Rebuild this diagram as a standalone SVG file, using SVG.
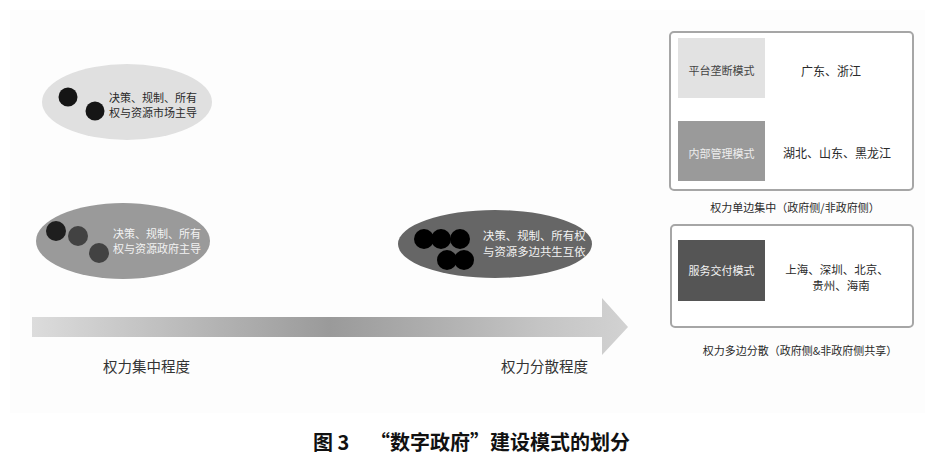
<svg xmlns="http://www.w3.org/2000/svg" width="935" height="460" viewBox="0 0 935 460">
<style>
text{font-family:"Noto Sans CJK SC","Noto Sans",sans-serif;}
.t11{font-size:11px;}
.t12{font-size:12px;}
.dark{fill:#2a2a2a;}
.light{fill:#f2f2f2;}
.box{fill:#fff;stroke:#a6a6a6;stroke-width:2;}
.dot{stroke:none;}
</style>
<defs>
<linearGradient id="ag" x1="32" y1="0" x2="628" y2="0" gradientUnits="userSpaceOnUse">
<stop offset="0" stop-color="#dcdcdc"/>
<stop offset="0.5" stop-color="#9a9a9a"/>
<stop offset="0.85" stop-color="#c4c4c4"/>
<stop offset="1" stop-color="#d2d2d2"/>
</linearGradient>
</defs>
<rect x="0" y="0" width="935" height="460" fill="#fff"/>
<rect x="10" y="10" width="915" height="403" fill="#fdfdfd"/>

<g id="node-market">
<ellipse cx="127" cy="102" rx="85" ry="38" fill="#e0e0e0"/>
<circle class="dot" cx="68" cy="97" r="9.5" fill="#151515"/>
<circle class="dot" cx="95" cy="111" r="9.5" fill="#151515"/>
<text class="t11 dark" x="109" y="102">决策、规制、所有</text>
<text class="t11 dark" x="109" y="117">权与资源市场主导</text>
</g>

<g id="node-gov">
<ellipse cx="123" cy="241" rx="87" ry="38" fill="#9a9a9a"/>
<circle class="dot" cx="56" cy="231" r="10" fill="#1e1e1e"/>
<circle class="dot" cx="78" cy="236" r="10" fill="#424242"/>
<circle class="dot" cx="99" cy="253" r="10" fill="#424242"/>
<text class="t11 light" x="113" y="238">决策、规制、所有</text>
<text class="t11 light" x="113" y="253">权与资源政府主导</text>
</g>

<g id="node-multi">
<ellipse cx="495" cy="244" rx="97" ry="34" fill="#666"/>
<circle class="dot" cx="424" cy="239" r="10" fill="#000"/>
<circle class="dot" cx="441" cy="239" r="10" fill="#000"/>
<circle class="dot" cx="460" cy="239" r="10" fill="#000"/>
<circle class="dot" cx="447" cy="260" r="10" fill="#000"/>
<circle class="dot" cx="464" cy="260" r="10" fill="#000"/>
<text class="t11 light" x="483" y="240" style="font-size:11.4px">决策、规制、所有权</text>
<text class="t11 light" x="483" y="256" style="font-size:11.4px">与资源多边共生互依</text>
</g>

<g id="connectors">
<polygon points="32,317 602,317 602,298 628,327 602,355 602,337 32,337" fill="url(#ag)"/>
</g>

<g id="axis-labels">
<text x="103" y="372" style="font-size:14.5px" fill="#333">权力集中程度</text>
<text x="501" y="372" style="font-size:14.5px" fill="#333">权力分散程度</text>
</g>

<g id="group-single">
<rect class="box" x="670" y="32" width="243" height="158" rx="4"/>
<g id="node-platform">
<rect x="678" y="38" width="87" height="60" fill="#e2e2e2"/>
<text class="t11" x="721.5" y="75" text-anchor="middle" fill="#444">平台垄断模式</text>
</g>
<text class="t12 dark" x="831" y="76" text-anchor="middle">广东、浙江</text>
<g id="node-internal">
<rect x="678" y="121" width="87" height="60" fill="#9a9a9a"/>
<text class="t11" x="721.5" y="158" text-anchor="middle" fill="#eee">内部管理模式</text>
</g>
<text class="t12 dark" x="837" y="158" text-anchor="middle">湖北、山东、黑龙江</text>
<text class="t11 dark" x="795" y="212" text-anchor="middle">权力单边集中（政府侧/非政府侧）</text>
</g>

<g id="group-multi">
<rect class="box" x="671" y="225" width="242" height="102" rx="4"/>
<g id="node-service">
<rect x="678" y="240" width="87" height="61" fill="#555"/>
<text class="t11" x="721.5" y="275" text-anchor="middle" fill="#f2f2f2">服务交付模式</text>
</g>
<text class="t11 dark" x="837" y="274" text-anchor="middle" style="font-size:11.5px">上海、深圳、北京、</text>
<text class="t11 dark" x="841" y="290" text-anchor="middle" style="font-size:11.5px">贵州、海南</text>
<text class="t11 dark" x="800" y="355" text-anchor="middle">权力多边分散（政府侧&amp;非政府侧共享）</text>
</g>

<text x="313" y="450" style="font-size:20px;font-weight:bold" fill="#111">图 3<tspan x="370">“数字政府”建设模式的划分</tspan></text>
</svg>
